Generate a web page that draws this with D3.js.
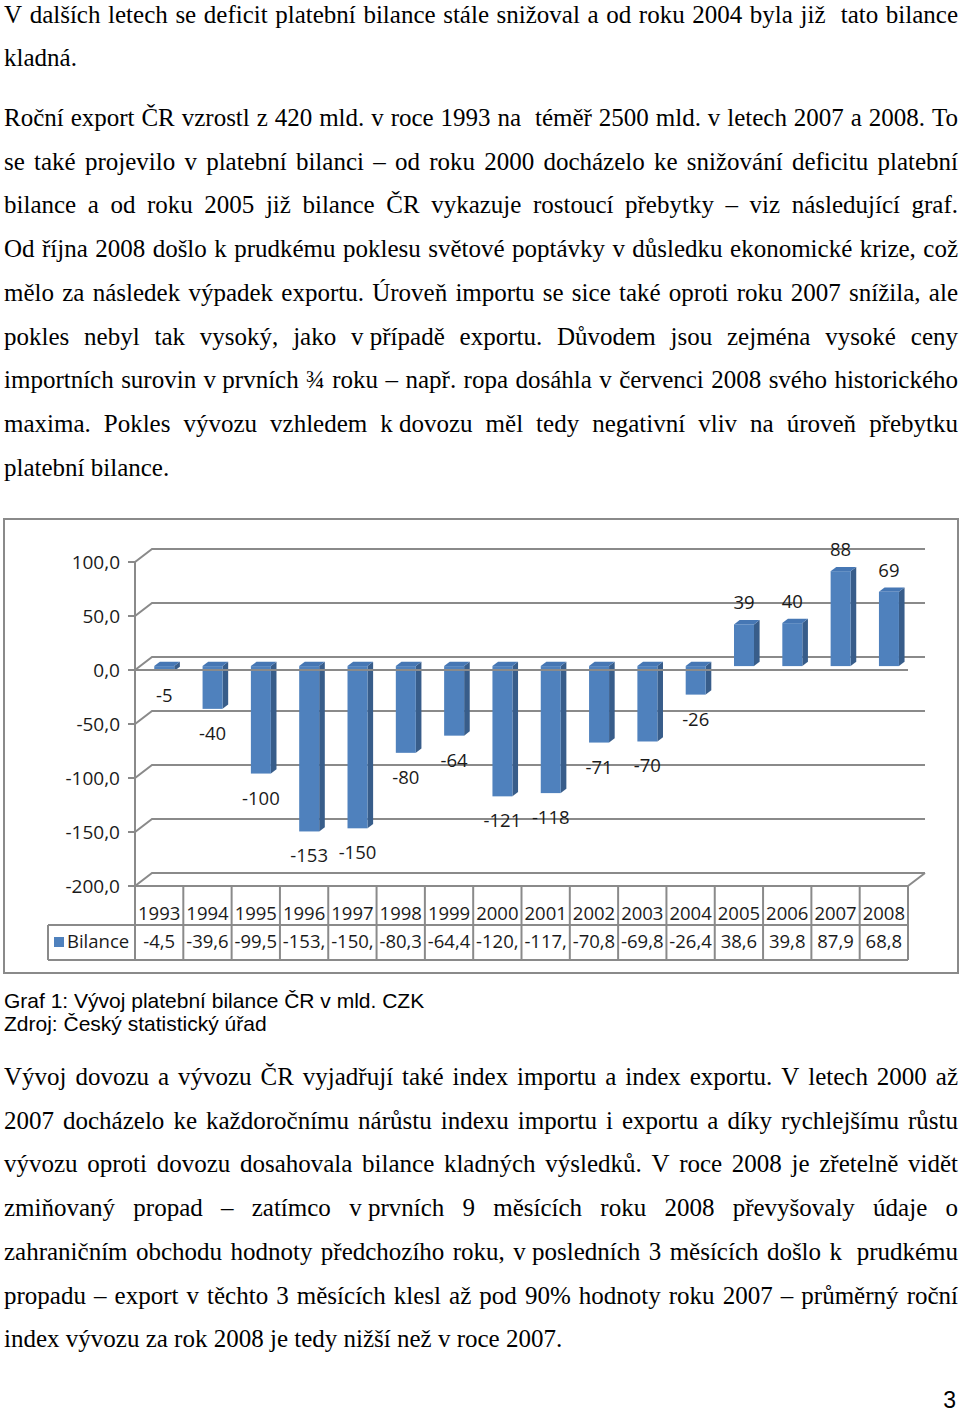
<!DOCTYPE html>
<html><head><meta charset="utf-8">
<script src="https://cdn.jsdelivr.net/npm/d3@7"></script>
<style>html,body{margin:0;padding:0;background:#fff}svg{display:block}</style>
</head><body>
<svg id="page" width="960" height="1414"></svg>
<script>
// ---------- data ----------
const years = ["1993","1994","1995","1996","1997","1998","1999","2000","2001","2002","2003","2004","2005","2006","2007","2008"];
const bilance = [-4.5,-39.6,-99.5,-153.1,-150.2,-80.3,-64.4,-120.6,-117.6,-70.8,-69.8,-26.4,38.6,39.8,87.9,68.8];
const seriesName = "Bilance";
const yTicks = [100,50,0,-50,-100,-150,-200];

const para1 = [
  "V dalších letech se deficit platební bilance stále snižoval a od roku 2004 byla již  tato bilance",
  "kladná."
];
const para2 = [
  "Roční export ČR vzrostl z 420 mld. v roce 1993 na  téměř 2500 mld. v letech 2007 a 2008. To",
  "se také projevilo v platební bilanci – od roku 2000 docházelo ke snižování deficitu platební",
  "bilance a od roku 2005 již bilance ČR vykazuje rostoucí přebytky – viz následující graf.",
  "Od října 2008 došlo k prudkému poklesu světové poptávky v důsledku ekonomické krize, což",
  "mělo za následek výpadek exportu. Úroveň importu se sice také oproti roku 2007 snížila, ale",
  "pokles nebyl tak vysoký, jako v\u00A0případě exportu. Důvodem jsou zejména vysoké ceny",
  "importních surovin v\u00A0prvních ¾ roku – např. ropa dosáhla v červenci 2008 svého historického",
  "maxima. Pokles vývozu vzhledem k\u00A0dovozu měl tedy negativní vliv na úroveň přebytku",
  "platební bilance."
];
const captionLines = ["Graf 1: Vývoj platební bilance ČR v mld. CZK", "Zdroj: Český statistický úřad"];
const para3 = [
  "Vývoj dovozu a vývozu ČR vyjadřují také index importu a index exportu. V letech 2000 až",
  "2007 docházelo ke každoročnímu nárůstu indexu importu i exportu a díky rychlejšímu růstu",
  "vývozu oproti dovozu dosahovala bilance kladných výsledků. V roce 2008 je zřetelně vidět",
  "zmiňovaný propad – zatímco v\u00A0prvních 9 měsících roku 2008 převyšovaly údaje o",
  "zahraničním obchodu hodnoty předchozího roku, v\u00A0posledních 3 měsících došlo k\u00A0 prudkému",
  "propadu – export v těchto 3 měsících klesl až pod 90% hodnoty roku 2007 – průměrný roční",
  "index vývozu za rok 2008 je tedy nižší než v roce 2007."
];
const pageNumber = "3";

// ---------- page ----------
const svg = d3.select("#page");
svg.append("rect").attr("width",960).attr("height",1414).attr("fill","#fff");

// ---------- body text ----------
const serif = "'Liberation Serif','Times New Roman',serif";
const textSize = 25, textX = 4, textW = 954, lineH = 43.7;
const measurer = svg.append("text").attr("font-family",serif).attr("font-size",textSize)
  .attr("visibility","hidden").style("white-space","pre");
function mw(s){ measurer.text(s); return measurer.node().getComputedTextLength(); }
const spaceW = mw("a a") - mw("aa");
const textG = svg.append("g").attr("font-family",serif).attr("font-size",textSize).attr("fill","#000");

function drawLine(str, baseline, justify){
  const parts = str.split(" ");
  const widths = parts.map(p => p ? mw(p) : 0);
  const sum = d3.sum(widths);
  const gaps = parts.length - 1;
  let gap = spaceW, scale = 1;
  if (justify && gaps > 0){
    gap = (textW - sum) / gaps;
    const minGap = spaceW * 0.55;
    if (gap < minGap){ gap = minGap; scale = (textW - gaps*minGap) / sum; }
  }
  let x = textX;
  parts.forEach((p,i) => {
    if (p){
      const t = textG.append("text").attr("x",x).attr("y",baseline).style("white-space","pre").text(p);
      if (scale !== 1) t.attr("textLength", widths[i]*scale).attr("lengthAdjust","spacingAndGlyphs");
    }
    x += widths[i]*scale + gap;
  });
}
function drawPara(lines, y0){
  lines.forEach((l,i) => drawLine(l, y0 + i*lineH + 7, i < lines.length-1));
}
drawPara(para1, 15.5);
drawPara(para2, 119);
drawPara(para3, 1078);

const sans = "'Liberation Sans',Arial,sans-serif";
svg.append("g").attr("font-family",sans).attr("font-size",21).attr("fill","#000")
  .selectAll("text").data(captionLines).join("text")
  .attr("x",4).attr("y",(d,i)=>1008 + i*23).text(d=>d);
svg.append("text").attr("font-family",sans).attr("font-size",23).attr("text-anchor","end")
  .attr("x",956).attr("y",1408).text(pageNumber);

// ---------- chart ----------
const chartFont = "'Open Sans','Noto Sans',sans-serif";
const grid = "#8a8a8a";
svg.append("rect").attr("x",4).attr("y",519).attr("width",954).attr("height",454)
  .attr("fill","#fff").attr("stroke",grid).attr("stroke-width",2);

const left = 135, right = 908, DX = 17, DY = -13;
const y = d3.scaleLinear().domain([-200,100]).range([886,562]);
const x = d3.scaleBand().domain(years).range([left,right]).padding(0);
const chart = svg.append("g");

// back wall gridlines with side-wall diagonals
chart.append("g").selectAll("path").data(yTicks).join("path")
  .attr("d", t => `M${left-7},${y(t)}L${left},${y(t)}L${left+DX},${y(t)+DY}L${right+DX},${y(t)+DY}`)
  .attr("fill","none").attr("stroke",grid).attr("stroke-width",2);
// floor right edge
chart.append("path").attr("d",`M${right},${y(-200)}L${right+DX},${y(-200)+DY}`)
  .attr("fill","none").attr("stroke",grid).attr("stroke-width",2);
// vertical axis
chart.append("line").attr("x1",left).attr("x2",left).attr("y1",y(100)).attr("y2",y(-200))
  .attr("stroke",grid).attr("stroke-width",2);
// y labels
chart.append("g").attr("font-family",chartFont).attr("font-size",19).attr("fill","#1a1a1a")
  .attr("text-anchor","end")
  .selectAll("text").data(yTicks).join("text")
  .attr("x",120).attr("y",t=>y(t)+6.8)
  .text(t => d3.format(".1f")(t).replace("−","-").replace(".",","));

// bars
const d0 = 0.3, d1 = 0.63;
const ox = DX*d0, oy = DY*d0, sx = DX*(d1-d0), sy = DY*(d1-d0);
const bw = 20;
const bars = chart.append("g").selectAll("g").data(bilance).join("g");
const bx0 = (d,i) => x(years[i]) + x.bandwidth()/2 + ox - bw/2;
const barTop = d => (d >= 0 ? y(d) : y(0)) + oy;
const barBot = d => (d >= 0 ? y(0) : y(d)) + oy;
bars.append("path").attr("fill","#385D8A")
  .attr("d",(d,i)=>{const a=bx0(d,i)+bw,t=barTop(d),b=barBot(d);return `M${a},${t}L${a+sx},${t+sy}L${a+sx},${b+sy}L${a},${b}Z`;});
bars.append("path").attr("fill","#4677B4")
  .attr("d",(d,i)=>{const a=bx0(d,i),t=barTop(d);return `M${a},${t}L${a+bw},${t}L${a+bw+sx},${t+sy}L${a+sx},${t+sy}Z`;});
bars.append("rect").attr("fill","#4F81BD")
  .attr("x",(d,i)=>bx0(d,i)).attr("width",bw)
  .attr("y",d=>barTop(d)).attr("height",d=>Math.max(0.5,barBot(d)-barTop(d)));

// front zero line
chart.append("line").attr("x1",left).attr("x2",right).attr("y1",y(0)).attr("y2",y(0))
  .attr("stroke",grid).attr("stroke-width",2);

// data labels
const roundAway = v => Math.sign(v)*Math.round(Math.abs(v));
chart.append("g").attr("font-family",chartFont).attr("font-size",18.5).attr("fill","#1a1a1a")
  .attr("text-anchor","middle")
  .selectAll("text").data(bilance).join("text")
  .attr("x",(d,i)=>bx0(d,i)+bw/2)
  .attr("y",d => d >= 0 ? barTop(d) - 15 : barBot(d) + 31)
  .text(d => String(roundAway(d)));

// data table
const rowTop = y(-200), rowMid = 925, rowBot = 960, legLeft = 48;
const tbl = chart.append("g").attr("stroke",grid).attr("stroke-width",2).attr("fill","none");
tbl.append("line").attr("x1",left).attr("x2",right).attr("y1",rowTop).attr("y2",rowTop);
tbl.append("line").attr("x1",legLeft).attr("x2",right).attr("y1",rowMid).attr("y2",rowMid);
tbl.append("line").attr("x1",legLeft).attr("x2",right).attr("y1",rowBot).attr("y2",rowBot);
tbl.append("line").attr("x1",legLeft).attr("x2",legLeft).attr("y1",rowMid).attr("y2",rowBot);
tbl.selectAll("line.v").data(years.concat(["end"])).join("line").attr("class","v")
  .attr("x1",(d,i)=>left + i*x.bandwidth()).attr("x2",(d,i)=>left + i*x.bandwidth())
  .attr("y1",rowTop).attr("y2",rowBot);

const tt = chart.append("g").attr("font-family",chartFont).attr("font-size",18.5).attr("fill","#1a1a1a")
  .attr("text-anchor","middle");
tt.selectAll("text.yr").data(years).join("text").attr("class","yr")
  .attr("x",d=>x(d)+x.bandwidth()/2).attr("y",920).text(d=>d);
const cellText = v => { const s = d3.format(".1f")(v).replace("−","-").replace(".",","); return s.length > 5 ? s.slice(0,5) : s; };
tt.selectAll("text.val").data(bilance).join("text").attr("class","val")
  .attr("x",(d,i)=>x(years[i])+x.bandwidth()/2).attr("y",948).text(d=>cellText(d));
chart.append("rect").attr("x",54).attr("y",937).attr("width",10).attr("height",10).attr("fill","#4F81BD");
chart.append("text").attr("font-family",chartFont).attr("font-size",18.5).attr("fill","#1a1a1a")
  .attr("x",67).attr("y",948).text(seriesName);
</script>
</body></html>
